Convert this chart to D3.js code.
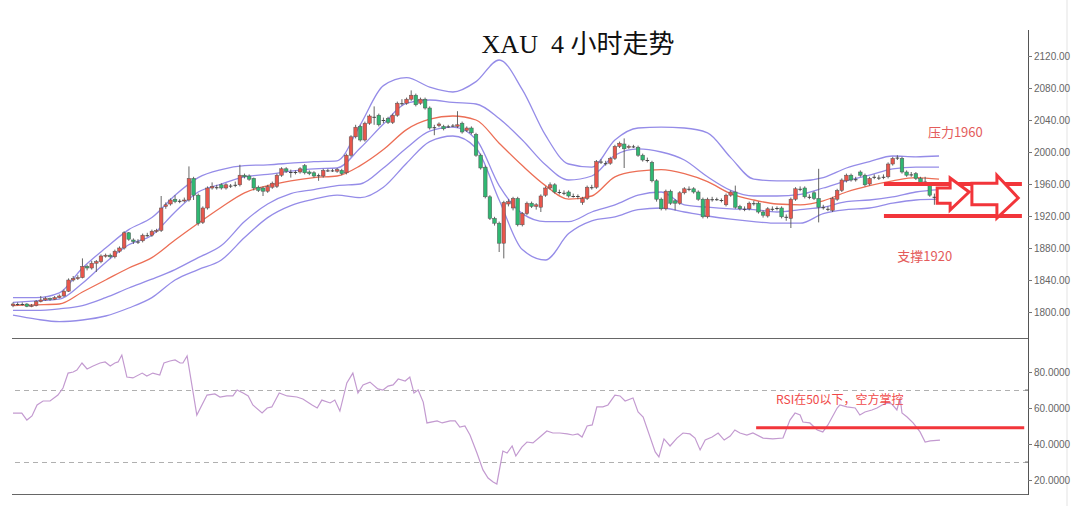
<!DOCTYPE html>
<html><head><meta charset="utf-8">
<script src="https://cdn.jsdelivr.net/npm/d3@7"></script>
<style>body{margin:0;background:#fff;} svg{display:block;}</style>
</head><body>
<svg id="c" width="1080" height="506"></svg>
<script>
const title = "XAU\u00a0\u00a04\u00a0小时走势";
const priceTicks = [1800,1840,1880,1920,1960,2000,2040,2080,2120];
const rsiTicks = [20,40,60,80];
const rsiLevels = [70,30];
const resistance = 1960, support = 1920, rsiMark = 49;
const resistanceLabel = "压力1960", supportLabel = "支撑1920", rsiLabel = "RSI在50以下，空方掌控";

const open = [
1808,1810,1810,1810,1807,1808,1813,1815,1817,1816,
1818,1820,1826,1840,1842,1843,1857,1855,1861,1863,
1870,1871,1869,1876,1880,1899,1890,1888,1889,1896,
1896,1901,1902,1932,1935,1941,1939,1939,1940,1967,
1946,1912,1930,1955,1956,1959,1955,1958,1959,1959,
1971,1970,1967,1956,1955,1951,1956,1957,1971,1979,
1975,1975,1975,1983,1975,1974,1971,1970,1977,1977,
1976,1977,1974,1996,2019,2032,2015,2036,2044,2046,
2040,2042,2037,2046,2061,2061,2066,2071,2061,2066,
2055,2031,2033,2032,2032,2033,2032,2036,2027,2030,
2022,1996,1981,1944,1917,1911,1886,1935,1930,1942,
1909,1923,1936,1932,1931,1946,1955,1959,1950,1949,
1950,1945,1945,1937,1942,1956,1956,1988,1986,1986,
1992,2007,2010,2006,2007,2006,1996,1990,1987,1964,
1941,1929,1951,1939,1936,1949,1954,1954,1950,1941,
1919,1941,1941,1940,1934,1946,1950,1932,1929,1929,
1936,1936,1925,1920,1929,1930,1930,1919,1917,1941,
1954,1955,1944,1949,1942,1931,1929,1927,1941,1952,
1964,1971,1966,1975,1971,1960,1969,1968,1969,1969,
1985,1993,1992,1975,1972,1973,1967,1963,1959,1944];
const close = [
1810,1810,1810,1807,1808,1813,1815,1817,1816,1818,
1820,1826,1840,1842,1843,1857,1855,1861,1863,1870,
1871,1869,1876,1880,1899,1891,1888,1888,1896,1896,
1901,1902,1930,1934,1940,1938,1939,1940,1967,1946,
1911,1930,1955,1957,1956,1955,1959,1958,1959,1971,
1969,1966,1955,1952,1951,1957,1961,1971,1979,1976,
1975,1975,1979,1974,1973,1970,1971,1977,1977,1977,
1978,1973,1996,2019,2031,2015,2036,2045,2044,2034,
2040,2037,2046,2061,2061,2066,2071,2059,2066,2055,
2030,2031,2035,2029,2032,2033,2034,2025,2030,2024,
1996,1980,1944,1917,1911,1886,1937,1938,1942,1909,
1923,1936,1932,1934,1945,1955,1959,1950,1950,1949,
1945,1945,1945,1942,1956,1956,1988,1988,1986,1992,
2007,2011,2004,2007,2007,1996,1990,1990,1964,1941,
1929,1951,1936,1936,1949,1954,1954,1950,1941,1919,
1941,1941,1941,1940,1946,1950,1931,1929,1929,1936,
1936,1925,1921,1929,1929,1930,1919,1919,1941,1954,
1954,1944,1944,1942,1931,1931,1929,1942,1952,1965,
1971,1965,1966,1971,1959,1967,1969,1968,1969,1985,
1992,1993,1975,1971,1972,1967,1962,1963,1946,1944];
const high = [
1812,1812,1812,1811,1810,1815,1820,1819,1818,1820,
1822,1828,1842,1845,1846,1867,1859,1864,1865,1872,
1873,1873,1878,1882,1901,1900,1892,1891,1898,1899,
1903,1904,1945,1937,1942,1946,1941,1943,1982,1969,
1948,1932,1957,1962,1959,1961,1961,1960,1963,1984,
1973,1972,1968,1958,1957,1959,1963,1973,1981,1981,
1978,1977,1981,1985,1977,1976,1973,1979,1979,1979,
1980,1979,1998,2021,2034,2034,2038,2047,2057,2048,
2043,2044,2048,2063,2066,2068,2077,2073,2068,2068,
2057,2034,2037,2034,2034,2035,2051,2038,2032,2032,
2024,1998,1983,1946,1919,1913,1939,1941,1944,1944,
1925,1938,1938,1936,1947,1957,1962,1961,1953,1952,
1952,1948,1947,1944,1958,1959,1990,1991,1989,1994,
2009,2013,2017,2009,2009,2008,1998,1993,1989,1966,
1943,1953,1953,1941,1951,1956,1957,1956,1952,1943,
1943,1944,1943,1942,1948,1952,1958,1934,1932,1938,
1939,1938,1927,1931,1932,1932,1932,1922,1943,1956,
1957,1957,1947,1951,1979,1934,1932,1944,1954,1967,
1973,1973,1969,1977,1973,1969,1972,1971,1972,1987,
1994,1996,1994,1977,1975,1975,1969,1969,1961,1948];
const low = [
1806,1808,1808,1806,1806,1807,1812,1814,1814,1815,
1817,1819,1825,1838,1840,1842,1852,1853,1850,1861,
1868,1867,1867,1874,1878,1889,1885,1885,1887,1894,
1894,1899,1900,1929,1933,1936,1936,1937,1938,1940,
1908,1910,1928,1953,1953,1953,1953,1955,1956,1957,
1967,1964,1952,1950,1945,1949,1954,1955,1969,1974,
1968,1972,1973,1972,1971,1968,1964,1968,1975,1975,
1974,1971,1972,1994,2017,2013,2013,2034,2034,2032,
2036,2035,2035,2044,2058,2059,2064,2057,2059,2053,
2028,2021,2031,2027,2030,2031,2030,2023,2025,2022,
1994,1978,1942,1915,1908,1875,1867,1932,1927,1907,
1907,1921,1930,1928,1925,1944,1953,1948,1947,1946,
1943,1943,1941,1934,1940,1953,1954,1985,1983,1984,
1990,2005,1980,2004,2005,1994,1988,1987,1962,1938,
1927,1927,1934,1927,1934,1947,1951,1948,1939,1917,
1917,1938,1939,1937,1932,1944,1929,1927,1926,1927,
1933,1923,1918,1918,1926,1927,1917,1914,1905,1939,
1951,1942,1941,1940,1912,1928,1926,1925,1939,1950,
1962,1963,1963,1969,1957,1958,1966,1965,1966,1967,
1983,1990,1973,1969,1969,1965,1960,1958,1944,1934];

const bandIdx = [0,5,10,15,20,25,30,35,40,45,50,55,60,65,70,75,80,85,90,95,100,105,110,115,120,125,130,135,140,145,150,155,160,165,170,175,180,185,190,195,200];
const bandUpper2 = [1818,1818,1824,1855,1880,1903,1918,1946,1968,1978,1983,1984,1986,1988,1989,2034,2083,2093,2081,2075,2088,2115,2078,2021,1985,1981,2015,2030,2031,2030,2024,1993,1966,1964,1964,1968,1980,1988,1995,1994,1995];
const bandUpper1 = [1812,1814,1816,1836,1862,1884,1896,1925,1950,1960,1969,1972,1976,1979,1980,2005,2035,2061,2065,2062,2060,2042,2015,1984,1965,1970,1996,2004,2000,1990,1969,1952,1945,1945,1947,1955,1964,1971,1979,1981,1981];
const bandMid = [1808,1809,1810,1825,1840,1855,1868,1890,1911,1931,1949,1958,1964,1968,1970,1983,2003,2028,2041,2045,2040,2011,1983,1958,1941,1945,1969,1976,1978,1973,1963,1948,1940,1935,1934,1939,1950,1958,1964,1968,1966];
const bandLower1 = [1802,1802,1804,1808,1818,1830,1841,1853,1868,1883,1913,1935,1948,1953,1958,1960,1980,2005,2026,2031,2016,1958,1923,1913,1913,1925,1934,1946,1950,1934,1931,1929,1928,1925,1928,1931,1938,1940,1944,1950,1953];
const bandLower2 = [1796,1791,1788,1790,1795,1805,1818,1840,1853,1865,1893,1918,1933,1941,1946,1943,1956,1986,2013,2020,2005,1940,1878,1865,1898,1914,1919,1928,1930,1925,1920,1916,1913,1911,1911,1923,1928,1930,1936,1940,1941];

const rsiIdx = [0,1.9,3.0,4.1,5.2,6.5,8.0,9.7,10.8,11.9,13.0,13.8,14.9,16.0,17.3,18.8,19.9,21.0,22.0,22.7,23.5,24.6,25.9,27.9,28.9,30.2,31.7,32.6,33.9,35.0,36.1,36.7,37.6,39.7,41.9,43.6,44.7,46.2,47.5,48.4,49.7,50.8,51.8,53.8,54.9,55.9,57.5,59.2,61.3,62.6,64.6,65.7,66.7,68.5,69.5,70.6,72.1,73.4,74.5,75.6,77.1,78.8,79.9,81.0,82.1,83.2,84.7,85.7,86.6,87.5,88.6,89.4,91.6,92.7,94.4,95.5,96.5,97.6,98.7,100.2,101.5,102.6,103.7,104.5,105.8,106.7,107.8,108.6,109.9,111.0,112.3,113.8,115.3,116.6,118.1,119.7,120.9,122.0,122.9,124.0,125.1,126.1,127.4,128.5,130.0,131.1,132.2,133.9,135.0,136.1,138.7,139.5,140.6,141.9,143.4,144.7,146.2,147.3,148.4,149.5,151.0,152.3,153.6,154.9,155.9,157.0,158.5,159.8,162.0,164.1,166.3,167.8,168.9,170.0,170.6,172.1,173.7,174.9,176.0,178.0,178.6,180.1,181.9,182.9,184.0,185.5,186.6,187.7,188.8,189.8,190.9,191.6,192.0,193.1,194.4,195.9,197.0,198.1,200.2];
const rsiVal = [57.2,57.2,53.3,55.6,61.7,63.9,63.9,67.2,71.1,79.4,80,81.1,85,81.7,83.3,85,85.6,83.3,85,85.6,89.4,77.2,76.7,79.4,77.8,79.4,78.3,85,86.1,86.7,85,85,88.9,56.1,67.2,67.8,66.1,66.7,66.7,70,68.3,66.7,61.7,57.2,60,60.6,68.3,66.7,66.1,65,61.7,60,64.4,62.8,64.4,58.3,73.9,79.4,68.3,72.8,74.4,70.6,70,72.2,72.8,76.1,75,77.2,68.3,70,63.3,51.7,52.8,51.7,52.8,52.8,49.4,50,45,35,25.6,21.1,18.9,17.8,36.1,35,38.9,33.3,38.3,41.1,40.6,43.9,47.2,46.1,46.1,45.6,45,45.6,43.9,50,50.6,60.6,60.6,61.7,67.2,66.7,63.9,65.6,57.8,55,35.6,32.8,42.8,38.9,43.3,46.1,45.6,43.3,36.7,42.2,43.9,46.1,42.2,44.4,47.8,46.1,45,46.1,43.3,42.8,43.3,53.3,57.2,56.1,52.2,51.7,47.8,46.7,50.6,60,61.7,60.6,60,56.1,57.8,58.9,60,61.7,62.8,62.2,58.9,65.6,57.2,55,51.7,46.7,41.1,41.7,42.2];

// ---------- layout ----------
const svg = d3.select("#c");
const N = Math.min(open.length, close.length, high.length, low.length);
const x = d3.scaleLinear().domain([0, 199]).range([13, 934.4]);
const y = d3.scaleLinear().domain([1800, 2120]).range([312, 56]);
const yr = d3.scaleLinear().domain([20, 80]).range([480, 372]);
const axisX = 1028, leftX = 12;

// frame line on right
svg.append("line").attr("x1",1067).attr("x2",1067).attr("y1",0).attr("y2",506)
  .attr("stroke","#e3e3e3").attr("stroke-width",1);

// title
svg.append("text").attr("x",578).attr("y",53).attr("text-anchor","middle")
  .attr("font-family","'Liberation Serif','Noto Sans CJK SC',serif").attr("font-size",26)
  .attr("fill","#111").text(title);

// panel lines
svg.append("line").attr("x1",leftX).attr("x2",axisX).attr("y1",338.5).attr("y2",338.5).attr("stroke","#666");
svg.append("line").attr("x1",leftX).attr("x2",axisX).attr("y1",494.5).attr("y2",494.5).attr("stroke","#666");

// RSI dashed levels
svg.selectAll("line.lvl").data(rsiLevels).enter().append("line").attr("class","lvl")
  .attr("x1",15).attr("x2",axisX).attr("y1",d=>Math.round(yr(d))+0.5).attr("y2",d=>Math.round(yr(d))+0.5)
  .attr("stroke","#b0b0b0").attr("stroke-width",1).attr("stroke-dasharray","5,4");

// bands
const bandLine = d3.line().x(d=>x(d[0])).y(d=>y(d[1])).curve(d3.curveMonotoneX);
const bands = [
  {v: bandUpper2, c: "#958ce8"}, {v: bandUpper1, c: "#958ce8"},
  {v: bandLower1, c: "#958ce8"}, {v: bandLower2, c: "#958ce8"},
  {v: bandMid, c: "#ec6e55"}];
bands.forEach(b => {
  svg.append("path").datum(bandIdx.map((k,i)=>[k,b.v[i]]))
    .attr("d", bandLine).attr("fill","none").attr("stroke",b.c).attr("stroke-width",1.3);
});

// candles
const candles = d3.range(N).map(i=>({i, o:open[i], h:high[i], l:low[i], c:close[i]}));
const g = svg.append("g");
g.selectAll("line.wick").data(candles).enter().append("line").attr("class","wick")
  .attr("x1",d=>x(d.i)).attr("x2",d=>x(d.i)).attr("y1",d=>y(d.h)).attr("y2",d=>y(d.l))
  .attr("stroke","#555").attr("stroke-width",0.9);
const bw = 3.6;
g.selectAll("rect.body").data(candles).enter().append("rect").attr("class","body")
  .attr("x",d=>x(d.i)-bw/2).attr("width",bw)
  .attr("y",d=>y(Math.max(d.o,d.c)))
  .attr("height",d=>Math.max(1, Math.abs(y(d.o)-y(d.c))))
  .attr("fill",d=>d.c>d.o ? "#e8564c" : (d.c<d.o ? "#2fb872" : "#444"))
  .attr("stroke",d=>d.c===d.o ? "none" : "#555").attr("stroke-width",0.5);

// RSI line
const rsiLine = d3.line().x(d=>x(d[0])).y(d=>yr(d[1]));
svg.append("path").datum(rsiIdx.map((k,i)=>[k,rsiVal[i]])).attr("d",rsiLine)
  .attr("fill","none").attr("stroke","#c39ad0").attr("stroke-width",1.2);

// axes
svg.append("line").attr("x1",axisX+0.5).attr("x2",axisX+0.5).attr("y1",30).attr("y2",495).attr("stroke","#555");
const ax1 = svg.append("g").attr("transform",`translate(${axisX},0)`)
  .call(d3.axisRight(y).tickValues(priceTicks).tickFormat(d3.format(".2f")).tickSize(4).tickPadding(2));
const ax2 = svg.append("g").attr("transform",`translate(${axisX},0)`)
  .call(d3.axisRight(yr).tickValues(rsiTicks).tickFormat(d3.format(".4f")).tickSize(4).tickPadding(2));
[ax1, ax2].forEach(a=>{
  a.select(".domain").remove();
  a.selectAll("line").attr("stroke","#777");
  a.selectAll("text").attr("font-family","'Liberation Sans',Arial,sans-serif").attr("font-size",10).attr("fill","#666");
});
svg.selectAll("line.minor").data(rsiLevels).enter().append("line").attr("class","minor")
  .attr("x1",axisX-3).attr("x2",axisX).attr("y1",d=>yr(d)).attr("y2",d=>yr(d)).attr("stroke","#777");

// annotations
const red = "#f2353a";
[resistance, support].forEach(p=>{
  svg.append("line").attr("x1",x(188.1)).attr("x2",x(217.9)).attr("y1",y(p)).attr("y2",y(p))
    .attr("stroke",red).attr("stroke-width",4);
});
function arrow(x0, xb, xt, bodyTop, bodyBot, headTop, headBot, tip){
  const pts = [[x0,bodyTop],[xb,bodyTop],[xb,headTop],[xt,tip],[xb,headBot],[xb,bodyBot],[x0,bodyBot]];
  svg.append("polygon").attr("points", pts.map(p=>[x(p[0]), y(p[1])].join(",")).join(" "))
    .attr("fill","#fff").attr("stroke",red).attr("stroke-width",3).attr("stroke-linejoin","miter");
}
arrow(199.6, 202.4, 206.5, 1955, 1936, 1967.5, 1927.5, 1950);
arrow(207.1, 212.5, 217.1, 1961, 1934, 1971, 1917.5, 1942.5);

const cjk = "'Noto Sans CJK SC','Noto Sans',sans-serif";
svg.append("text").attr("x",x(197.6)).attr("y",y(2019)).attr("font-family",cjk).attr("font-size",13)
  .attr("fill","#e45b5b").text(resistanceLabel);
svg.append("text").attr("x",x(191)).attr("y",y(1864)).attr("font-family",cjk).attr("font-size",13)
  .attr("fill","#e45b5b").text(supportLabel);
svg.append("line").attr("x1",x(160.5)).attr("x2",x(218.4)).attr("y1",yr(rsiMark)).attr("y2",yr(rsiMark))
  .attr("stroke",red).attr("stroke-width",3);
svg.append("text").attr("x",x(164.8)).attr("y",yr(62.3)).attr("font-family",cjk).attr("font-size",12)
  .attr("fill","#f04848").text(rsiLabel);
</script>
</body></html>
